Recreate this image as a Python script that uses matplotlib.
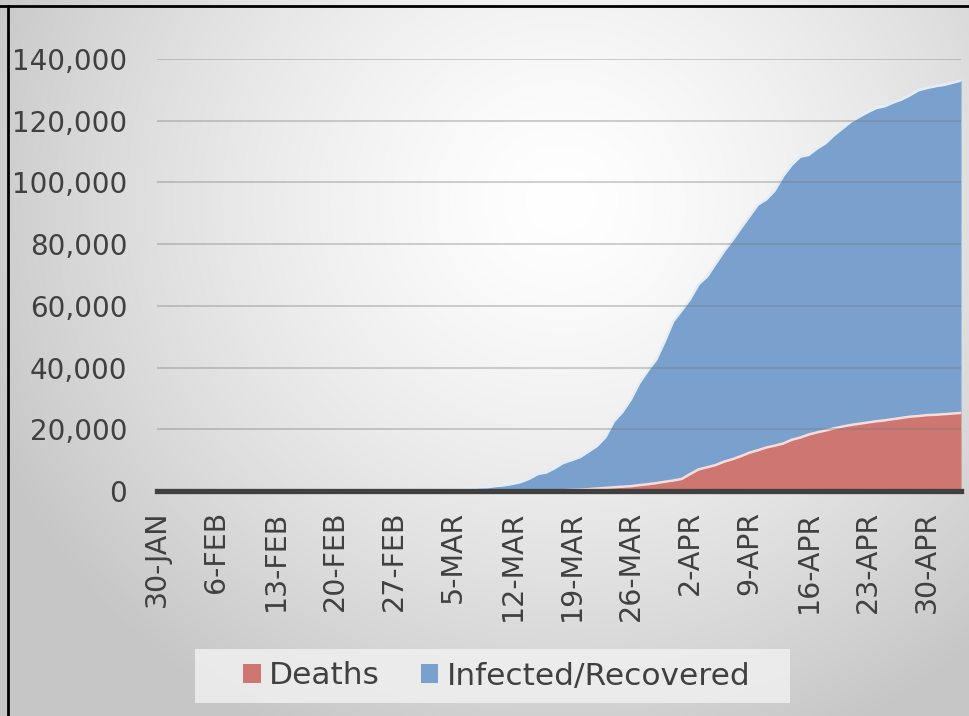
import numpy as np
import pandas as pd
import matplotlib
matplotlib.use("Agg")
import matplotlib.pyplot as plt
from matplotlib.patches import Patch, Rectangle
from matplotlib.lines import Line2D

plt.rcParams['font.family'] = ['DejaVu Sans']

# ---- data (30 Jan 2020 .. 4 May 2020, daily) ----
start_date = "2020-01-30"
total_cases = [
    6, 6, 6, 6, 6, 6, 6, 11, 11, 11,
    11, 11, 11, 11, 11, 11, 11, 12, 12, 12,
    12, 12, 12, 12, 12, 12, 14, 18, 38, 57,
    100, 130, 191, 204, 285, 377, 653, 949, 1126, 1209,
    1600, 1850, 2300, 2900, 4000, 5500, 6000, 7400, 9100, 10000,
    11000, 12800, 14600, 17500, 22600, 25600, 29700, 35000, 39000, 42600,
    48500, 55000, 58500, 62200, 67000, 69500, 73600, 77700, 81300, 85200,
    89000, 92800, 94500, 97400, 102100, 105700, 108300, 108900, 111000, 112700,
    115300, 117500, 119700, 121300, 122800, 124100, 124700, 125900, 126900, 128300,
    129900, 130600, 131200, 131600, 132300, 133000,
]
deaths = [
    0, 0, 0, 0, 0, 0, 0, 0, 0, 0,
    0, 0, 0, 0, 0, 0, 1, 1, 1, 1,
    1, 1, 1, 1, 1, 1, 1, 1, 1, 1,
    1, 2, 3, 4, 4, 7, 9, 11, 19, 19,
    33, 48, 48, 79, 91, 91, 148, 148, 243, 372,
    450, 600, 800, 1000, 1200, 1400, 1550, 1900, 2200, 2550,
    3000, 3400, 3900, 5500, 7000, 7700, 8400, 9500, 10300, 11300,
    12400, 13200, 14100, 14700, 15400, 16600, 17300, 18300, 19000, 19600,
    20300, 20900, 21400, 21800, 22200, 22600, 22900, 23300, 23700, 24100,
    24300, 24600, 24700, 24900, 25100, 25300,
]
tick_labels = ["30-JAN", "6-FEB", "13-FEB", "20-FEB", "27-FEB", "5-MAR", "12-MAR",
               "19-MAR", "26-MAR", "2-APR", "9-APR", "16-APR", "23-APR", "30-APR"]
y_ticks = [0, 20000, 40000, 60000, 80000, 100000, 120000, 140000]
series_names = ["Deaths", "Infected/Recovered"]

dates = pd.date_range(start_date, periods=len(total_cases), freq="D")
x = np.arange(len(dates))

# ---- figure ----
W, H = 970, 716
fig = plt.figure(figsize=(W / 100, H / 100), dpi=100)

# radial gradient background
bg = fig.add_axes([0, 0, 1, 1], zorder=0)
bg.axis("off")
yy, xx = np.mgrid[0:H, 0:W]
r = np.hypot(xx - 560, (yy - 200) * 1.05)
t = np.clip(r / 620.0, 0, 1) ** 1.4
g = 1.0 - 0.22 * t
bg.imshow(np.dstack([g, g, g]), extent=[0, 1, 0, 1], aspect="auto",
          origin="upper", interpolation="bilinear")
bg.set_xlim(0, 1)
bg.set_ylim(0, 1)

ax = fig.add_axes([157 / W, 1 - 491 / H, (961 - 157) / W, (491 - 59) / H], zorder=1)
ax.patch.set_alpha(0)

red = "#CD7672"
blue = "#7AA0CD"
ax.fill_between(x, 0, deaths, color=red, lw=0, zorder=1)
ax.fill_between(x, deaths, total_cases, color=blue, lw=0, zorder=1)
ax.plot(x, total_cases, color="#E4EDF7", lw=1.8, zorder=2, solid_joinstyle="round")
ax.plot(x, deaths, color="#F7DEDB", lw=1.8, zorder=2, solid_joinstyle="round")

for yv in y_ticks[1:]:
    ax.axhline(yv, color="#7a7a7a", lw=1.1, alpha=0.45, zorder=3)
ax.axhline(0, color="#404040", lw=3.8, zorder=4, clip_on=False)

ax.set_xlim(0, len(x) - 1)
ax.set_ylim(0, 140000)
ax.set_yticks(y_ticks)
ax.set_yticklabels([f"{v:,}" for v in y_ticks])
ax.set_xticks(x[::7][:len(tick_labels)])
ax.set_xticklabels(tick_labels, rotation=90)
for s in ax.spines.values():
    s.set_visible(False)
ax.tick_params(axis="y", length=0, pad=21.5, labelsize=20, labelcolor="#404040")
ax.tick_params(axis="x", length=0, pad=14, labelsize=20.5, labelcolor="#404040")

# legend box + legend
fig.add_artist(Rectangle((195 / W, 1 - 703 / H), (790 - 195) / W, 54 / H,
                         transform=fig.transFigure, facecolor="#F0F0F0",
                         edgecolor="none", alpha=0.85, zorder=2))
handles = [Patch(facecolor=red, edgecolor="none"), Patch(facecolor=blue, edgecolor="none")]
leg = fig.legend(handles, series_names, loc="center", bbox_to_anchor=(497 / W, 1 - 676 / H),
                 ncol=2, frameon=False, fontsize=22.5,
                 handlelength=0.55, handleheight=0.6, handletextpad=0.28,
                 columnspacing=1.3, borderpad=0.2, borderaxespad=0)
leg.set_zorder(3)
for txt in leg.get_texts():
    txt.set_color("#404040")

# outer border lines (top and left)
fig.add_artist(Line2D([0, 1], [1 - 6 / H, 1 - 6 / H], color="black", lw=2, transform=fig.transFigure))
fig.add_artist(Line2D([8 / W, 8 / W], [0, 1 - 6 / H], color="black", lw=2, transform=fig.transFigure))

fig.savefig("out.png", dpi=100)
